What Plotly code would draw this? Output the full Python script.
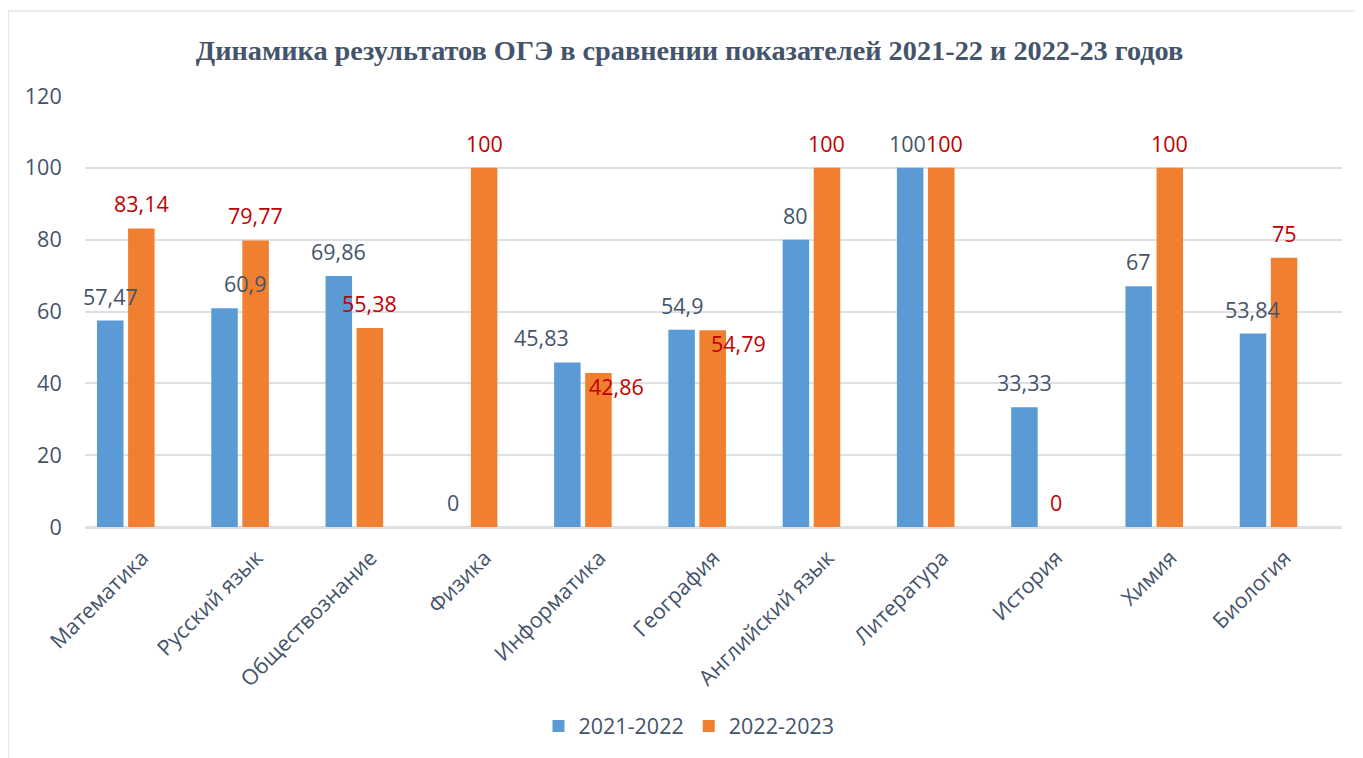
import plotly.graph_objects as go

categories = ["Математика", "Русский язык", "Обществознание", "Физика", "Информатика",
              "География", "Английский язык", "Литература", "История", "Химия", "Биология"]
series_names = ["2021-2022", "2022-2023"]
values_2122 = [57.47, 60.9, 69.86, 0, 45.83, 54.9, 80, 100, 33.33, 67, 53.84]
values_2223 = [83.14, 79.77, 55.38, 100, 42.86, 54.79, 100, 100, 0, 100, 75]
y_ticks = [0, 20, 40, 60, 80, 100, 120]
title_text = "Динамика результатов ОГЭ в сравнении показателей 2021-22 и 2022-23 годов"

# style
BAR_W = 0.232
OFFSETS = [-0.395, -0.123]
BAR_COLORS = ["#5B9BD5", "#F07F30"]
LABEL_COLORS = ["#44546A", "#C00000"]
TEXT = "#44546A"
GRID = "#DDE1E6"
FONT = "Open Sans"
FS = 21.5

# manual label nudges (px) for a few labels, as in the source chart
label_nudge = {
    (0, 1): (20, 0),
    (0, 4): (-26, 0),
    (1, 4): (18, -38),
    (1, 5): (26, -38),
    (0, 7): (-3, 0),
    (1, 7): (3, 0),
}

def fmt(v):
    return f"{v:g}".replace(".", ",")

fig = go.Figure()
for s, vals in enumerate([values_2122, values_2223]):
    fig.add_trace(go.Bar(
        x=categories, y=vals, name=series_names[s],
        width=BAR_W, offset=OFFSETS[s],
        marker=dict(color=BAR_COLORS[s], line=dict(width=0)),
    ))

annotations = []
for s, vals in enumerate([values_2122, values_2223]):
    for i, v in enumerate(vals):
        dx, dy = label_nudge.get((s, i), (0, 0))
        annotations.append(dict(
            x=i + OFFSETS[s] + BAR_W / 2, y=v, xref="x", yref="y",
            text=fmt(v), showarrow=False, xanchor="center", yanchor="bottom",
            xshift=dx, yshift=8 + dy,
            font=dict(family=FONT, size=FS, color=LABEL_COLORS[s]),
        ))

fig.update_layout(
    width=1363, height=758, autosize=False,
    margin=dict(l=77, r=29, t=88, b=239),
    paper_bgcolor="white", plot_bgcolor="white",
    barmode="overlay",
    title=dict(text=f"<b>{title_text}</b>", x=0.5, xanchor="center",
               y=1 - 42 / 758, yanchor="middle",
               font=dict(family="Liberation Serif", size=28.3, color=TEXT)),
    font=dict(family=FONT, size=FS, color=TEXT),
    xaxis=dict(type="category", range=[-0.5, 10.5], tickangle=-45,
               showgrid=False, showline=True, linecolor=GRID, linewidth=1.5,
               ticks="outside", ticklen=8, tickcolor="rgba(0,0,0,0)",
               tickfont=dict(family=FONT, size=FS, color=TEXT)),
    yaxis=dict(range=[0, 120], tickvals=y_ticks, showgrid=True, gridcolor=GRID,
               gridwidth=1.5, zeroline=True, zerolinecolor=GRID, zerolinewidth=1.5,
               showline=False, ticks="outside", ticklen=18, tickcolor="rgba(0,0,0,0)",
               tickfont=dict(family=FONT, size=FS, color=TEXT)),
    legend=dict(orientation="h", x=0.4805, xanchor="center", y=-0.4617, yanchor="middle",
                font=dict(family=FONT, size=FS, color=TEXT), itemwidth=30,
                traceorder="normal"),
    annotations=annotations,
    showlegend=True,
    shapes=[dict(type="rect", xref="paper", yref="paper",
                 x0=(8 - 85) / 1257, x1=(1375 - 85) / 1257,
                 y0=(527 - 770) / 431, y1=(527 - 11) / 431,
                 line=dict(color="#D9D9D9", width=1.2), fillcolor="rgba(0,0,0,0)",
                 layer="below")],
)

fig.write_html("out.html")
